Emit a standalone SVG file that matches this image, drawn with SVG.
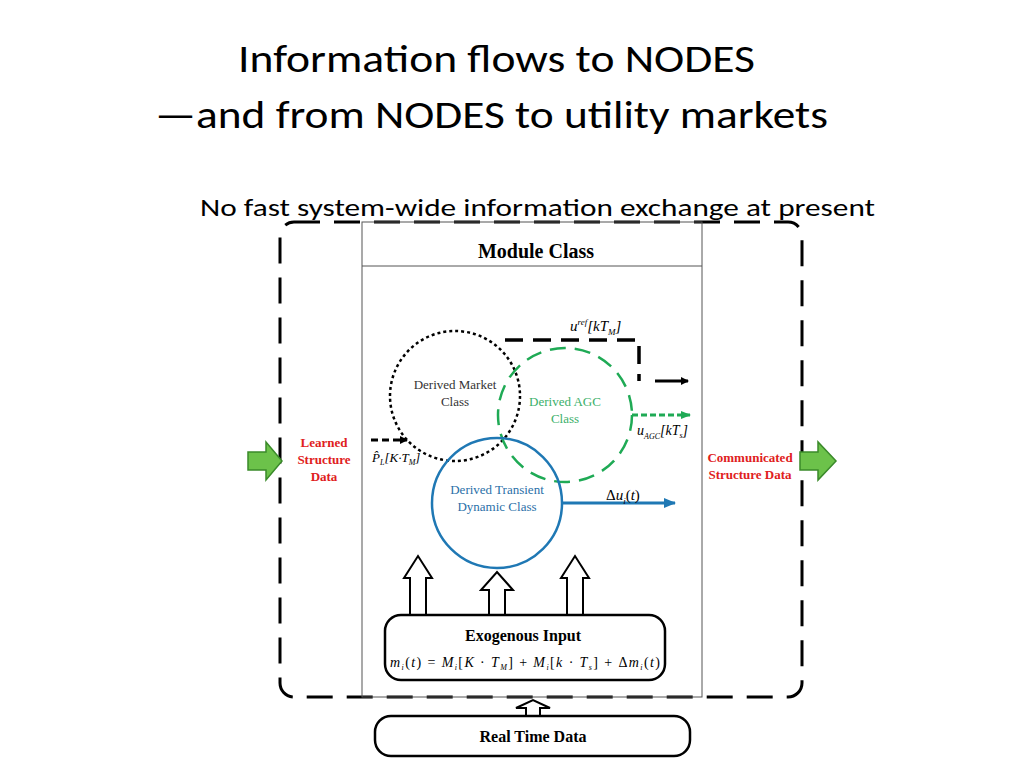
<svg xmlns="http://www.w3.org/2000/svg" width="1024" height="768" viewBox="0 0 1024 768">
<style>
.t{font-family:Calibri,"Carlito","Open Sans",sans-serif;fill:#000}
.s{font-family:"Liberation Serif",serif}
.hollow{fill:#fff;stroke:#000;stroke-width:2}
.green{fill:#6cc24a;stroke:#3a8a2a;stroke-width:1.5}
</style>
<defs>
<marker id="ab" markerWidth="8" markerHeight="8" refX="7" refY="4" orient="auto" markerUnits="userSpaceOnUse"><path d="M0,0 L8,4 L0,8 Z" fill="#000"/></marker>
<marker id="ag" markerWidth="10" markerHeight="8" refX="9" refY="4" orient="auto" markerUnits="userSpaceOnUse"><path d="M0,0 L10,4 L0,8 Z" fill="#1faa55"/></marker>
<marker id="au" markerWidth="12" markerHeight="10" refX="11" refY="5" orient="auto" markerUnits="userSpaceOnUse"><path d="M0,0 L12,5 L0,10 Z" fill="#1f78b4"/></marker>
</defs>
<rect width="1024" height="768" fill="#fff"/>
<text class="t" x="238" y="72" font-size="38" textLength="517" lengthAdjust="spacingAndGlyphs">Information flows to NODES</text>
<text class="t" x="155" y="128" font-size="38" textLength="673" lengthAdjust="spacingAndGlyphs">—and from NODES to utility markets</text>
<text class="t" x="200" y="216" font-size="24" textLength="675" lengthAdjust="spacingAndGlyphs">No fast system-wide information exchange at present</text>

<g id="outer"><rect x="280" y="222" width="522" height="475" rx="14" fill="none" stroke="#000" stroke-width="3" stroke-dasharray="26,14"/></g>
<g id="module">
<rect x="362" y="222" width="340" height="475" fill="none" stroke="#555" stroke-width="1"/>
<line x1="362" y1="266" x2="702" y2="266" stroke="#555" stroke-width="1"/>
<text class="s" x="536" y="258" font-size="20" font-weight="bold" text-anchor="middle">Module Class</text>
</g>
<g id="market"><circle cx="455" cy="396" r="65" fill="none" stroke="#000" stroke-width="2.5" stroke-dasharray="3,3"/>
<text class="s" x="455" y="389" font-size="13" text-anchor="middle" fill="#333">Derived Market</text>
<text class="s" x="455" y="406" font-size="13" text-anchor="middle" fill="#333">Class</text></g>
<g id="agc"><circle cx="565" cy="415" r="67" fill="none" stroke="#1faa55" stroke-width="2.5" stroke-dasharray="16,9"/>
<text class="s" x="565" y="406" font-size="13" text-anchor="middle" fill="#3bb06a">Derived AGC</text>
<text class="s" x="565" y="423" font-size="13" text-anchor="middle" fill="#3bb06a">Class</text></g>
<g id="transient"><circle cx="497" cy="503" r="65" fill="none" stroke="#1f78b4" stroke-width="2.5"/>
<text class="s" x="497" y="494" font-size="13" text-anchor="middle" fill="#2a6fa8">Derived Transient</text>
<text class="s" x="497" y="511" font-size="13" text-anchor="middle" fill="#2a6fa8">Dynamic Class</text></g>

<g id="connectors">
<path d="M505,340 H639 V381" fill="none" stroke="#000" stroke-width="3.5" stroke-dasharray="18,10"/>
<line x1="655" y1="381" x2="688" y2="381" stroke="#000" stroke-width="3" marker-end="url(#ab)"/>
<line x1="632" y1="415" x2="690" y2="415" stroke="#1faa55" stroke-width="3" stroke-dasharray="6,3" marker-end="url(#ag)"/>
<line x1="563" y1="503" x2="675" y2="503" stroke="#1f78b4" stroke-width="3" marker-end="url(#au)"/>
<line x1="371" y1="440" x2="407" y2="440" stroke="#000" stroke-width="3" stroke-dasharray="7,4" marker-end="url(#ab)"/>
<path class="hollow" d="M410,615 V578 H404 L418,556 L432,578 H426 V615 Z"/>
<path class="hollow" d="M489,615 V590 H481 L497,572 L513,590 H505 V615 Z"/>
<path class="hollow" d="M567,615 V578 H561 L575,556 L589,578 H583 V615 Z"/>
<path class="hollow" d="M526,716 V708 H516 L533,700 L550,708 H540 V716 Z"/>
<path class="green" d="M248,452 H266 V442 L282,461 L266,480 V470 H248 Z"/>
<path class="green" d="M800,452 H818 V442 L836,461 L818,480 V470 H800 Z"/>
</g>
<g id="labels" class="s">
<text x="570" y="331" font-size="15" font-style="italic">u<tspan dy="-6" font-size="9">ref</tspan><tspan dy="6">[kT</tspan><tspan dy="4" font-size="9">M</tspan><tspan dy="-4">]</tspan></text>
<text x="637" y="435" font-size="14" font-style="italic">u<tspan dy="4" font-size="8">AGC</tspan><tspan dy="-4">[kT</tspan><tspan dy="3" font-size="8">s</tspan><tspan dy="-3">]</tspan></text>
<text x="606" y="500" font-size="15">Δ<tspan font-style="italic">u</tspan><tspan dy="4" font-size="9" font-style="italic">i</tspan><tspan dy="-4">(</tspan><tspan font-style="italic">t</tspan>)</text>
<text x="372" y="462" font-size="13" font-style="italic">P̂<tspan dy="3" font-size="8">L</tspan><tspan dy="-3">[K·T</tspan><tspan dy="3" font-size="8">M</tspan><tspan dy="-3">]</tspan></text>
</g>
<g id="learned" class="s" font-weight="bold" fill="#e02020" font-size="13" text-anchor="middle">
<text x="324" y="447">Learned</text><text x="324" y="464">Structure</text><text x="324" y="481">Data</text></g>
<g id="communicated" class="s" font-weight="bold" fill="#e02020" font-size="13" text-anchor="middle">
<text x="750" y="462">Communicated</text><text x="750" y="479">Structure Data</text></g>
<g id="exogenous">
<rect x="385" y="615" width="280" height="65" rx="16" fill="#fff" stroke="#000" stroke-width="2.5"/>
<text class="s" x="523" y="641" font-size="16" font-weight="bold" text-anchor="middle">Exogenous Input</text>
<text class="s" x="390" y="667" font-size="14" textLength="270" lengthAdjust="spacing"><tspan font-style="italic">m</tspan><tspan font-size="8" dy="3" font-style="italic">i</tspan><tspan dy="-3">(</tspan><tspan font-style="italic">t</tspan>) = <tspan font-style="italic">M</tspan><tspan font-size="8" dy="3" font-style="italic">i</tspan><tspan dy="-3">[</tspan><tspan font-style="italic">K</tspan> · <tspan font-style="italic">T</tspan><tspan font-size="8" dy="3" font-style="italic">M</tspan><tspan dy="-3">] + </tspan><tspan font-style="italic">M</tspan><tspan font-size="8" dy="3" font-style="italic">i</tspan><tspan dy="-3">[</tspan><tspan font-style="italic">k</tspan> · <tspan font-style="italic">T</tspan><tspan font-size="8" dy="3" font-style="italic">s</tspan><tspan dy="-3">] + Δ</tspan><tspan font-style="italic">m</tspan><tspan font-size="8" dy="3" font-style="italic">i</tspan><tspan dy="-3">(</tspan><tspan font-style="italic">t</tspan>)</text>
</g>
<g id="realtime">
<rect x="375" y="716" width="315" height="40" rx="16" fill="#fff" stroke="#000" stroke-width="2.5"/>
<text class="s" x="533" y="742" font-size="16" font-weight="bold" text-anchor="middle">Real Time Data</text>
</g>
</svg>
